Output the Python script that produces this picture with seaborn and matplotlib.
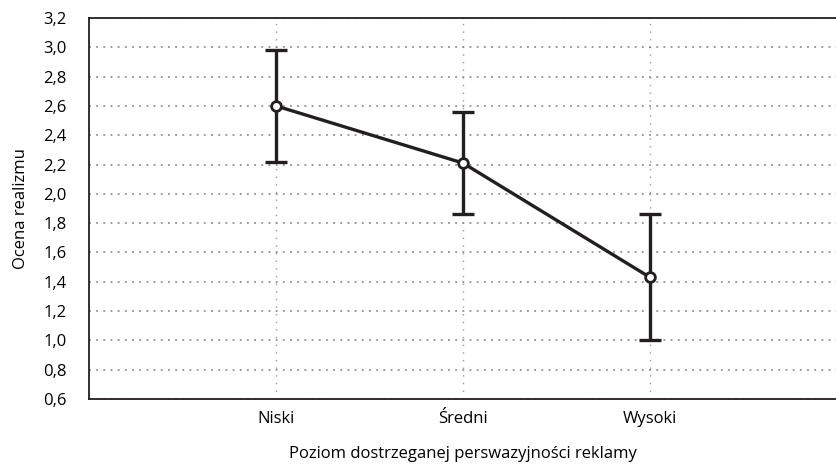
import numpy as np
import pandas as pd
import seaborn as sns
import matplotlib.pyplot as plt
from matplotlib.ticker import FuncFormatter

# dane
poziomy = ['Niski', 'Średni', 'Wysoki']
srednie = [2.60, 2.21, 1.43]
bledy = [0.38, 0.35, 0.43]

df = pd.DataFrame({'poziom': poziomy, 'ocena': srednie, 'blad': bledy})

sns.set_style('white')
plt.rcParams['font.family'] = ['Open Sans', 'DejaVu Sans']
kolor = '#231f20'
rozmiar = 12

fig = plt.figure(figsize=(8.37, 4.72), dpi=100)
ax = fig.add_axes([0.1063, 0.1547, 0.8937, 0.8072])

# slupki bledow
ax.errorbar(df['poziom'], df['ocena'], yerr=df['blad'], fmt='none',
            ecolor=kolor, elinewidth=2.4, capsize=8, capthick=2.4, zorder=3)

# linia ze srednimi
sns.pointplot(data=df, x='poziom', y='ocena', errorbar=None, color=kolor,
              markers='o', linewidth=2.4, markersize=7, ax=ax, zorder=4)
for ln in ax.lines:
    if ln.get_marker() == 'o':
        ln.set_markerfacecolor('white')
        ln.set_markeredgecolor(kolor)
        ln.set_markeredgewidth(2)
        ln.set_zorder(5)

ax.set_xlim(-1, 3)
ax.set_ylim(0.6, 3.2)
ax.set_yticks(np.arange(0.6, 3.21, 0.2))
ax.yaxis.set_major_formatter(FuncFormatter(lambda v, p: f'{v:.1f}'.replace('.', ',')))

ax.grid(True, axis='y', linestyle=(0, (1.2, 3.5)), color='#7f7f7f', linewidth=1.1)
ax.grid(True, axis='x', linestyle=(0, (1.0, 4.5)), color='#9a9a9a', linewidth=1.0)
ax.set_axisbelow(True)

for s in ['left', 'bottom', 'top']:
    ax.spines[s].set_color(kolor)
    ax.spines[s].set_linewidth(1.3)
ax.spines['right'].set_visible(False)

ax.tick_params(axis='y', length=0, pad=16, labelsize=rozmiar, colors='black')
ax.tick_params(axis='x', length=0, pad=9, labelsize=rozmiar, colors='black')

ax.set_xlabel('Poziom dostrzeganej perswazyjności reklamy', fontsize=rozmiar,
              color='black', labelpad=13)
ax.set_ylabel('Ocena realizmu', fontsize=rozmiar, color='black', labelpad=10)

fig.savefig('out.png', dpi=100)
